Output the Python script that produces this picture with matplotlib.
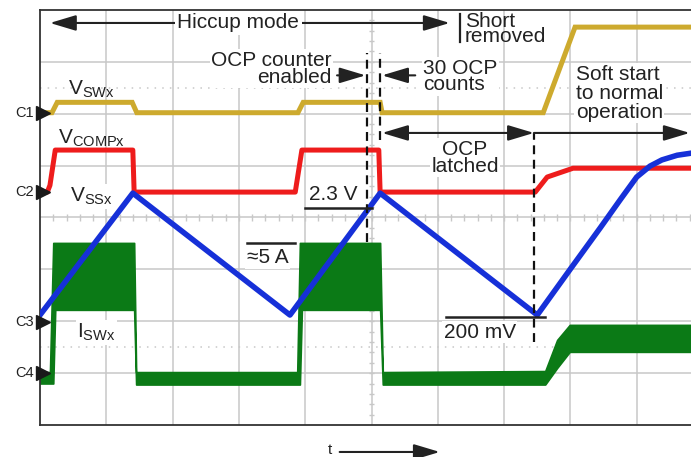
import numpy as np
import matplotlib
matplotlib.use('Agg')
import matplotlib.pyplot as plt

plt.rcParams['font.family'] = ['Liberation Sans', 'DejaVu Sans']
plt.rcParams['mathtext.fontset'] = 'custom'
plt.rcParams['mathtext.rm'] = 'Liberation Sans'

# time axis in scope divisions (10 across), amplitude in divisions (8 high)
swT = [0, 0.18, 0.26, 1.39, 1.46, 3.89, 3.97, 5.13, 5.16, 7.59, 8.07, 10]
swV = [6.02, 6.02, 6.22, 6.22, 6.02, 6.02, 6.22, 6.22, 6.02, 6.02, 7.67, 7.67]

compT = [0, 0.11, 0.15, 0.23, 1.40, 1.42, 3.85, 3.95, 5.11, 5.13, 7.47, 7.65, 8.04, 10]
compV = [4.49, 4.49, 4.62, 5.30, 5.30, 4.49, 4.49, 5.30, 5.30, 4.49, 4.49, 4.78, 4.95, 4.95]

ssT = [0, 1.40, 3.77, 5.13, 7.50, 7.99, 8.45, 8.75, 9.00, 9.20, 9.38, 9.61, 9.82, 10]
ssV = [2.12, 4.47, 2.12, 4.47, 2.12, 2.99, 3.80, 4.34, 4.78, 4.99, 5.11, 5.20, 5.24, 5.26]

# switch current is a noisy band: upper / lower envelope
iT = [0.00, 0.15, 0.20, 0.23, 1.42, 1.45, 3.88, 3.92, 3.95, 5.13, 5.17, 7.62, 7.80, 7.99, 10.0]
iHi = [1.02, 1.02, 3.51, 3.51, 3.51, 1.02, 1.02, 3.51, 3.51, 3.51, 1.02, 1.04, 1.64, 1.93, 1.93]
iLo = [0.80, 0.80, 0.80, 2.22, 2.22, 0.78, 0.78, 0.78, 2.22, 2.22, 0.78, 0.78, 1.10, 1.41, 1.41]

chNames = ['C1', 'C2', 'C3', 'C4']
chLevels = [6.02, 4.49, 1.98, 1.0]

yellow = '#CDAA2E'
red = '#EE1C1C'
blue = '#1630D8'
green = '#0B7A16'
ink = '#222222'
gridc = '#C8C8C8'

fig = plt.figure(figsize=(6.91, 4.57), dpi=100)
ax = fig.add_axes([40/691, 32/457, 663/691, 415/457])
ax.set_xlim(0, 10)
ax.set_ylim(0, 8)
ax.set_xticks([])
ax.set_yticks([])
for s in ['left', 'top', 'bottom']:
    ax.spines[s].set_color('#333333')
    ax.spines[s].set_linewidth(1.3)
ax.spines['right'].set_visible(False)

# graticule
for gx in range(1, 10):
    ax.axvline(gx, color=gridc, lw=1.1, zorder=0)
for gy in range(1, 8):
    ax.axhline(gy, color=gridc, lw=1.1, zorder=0)
for gy in [1.5, 6.5]:
    ax.axhline(gy, color=gridc, lw=1.1, ls=(0, (1, 4)), zorder=0)
tx = np.arange(0.2, 10, 0.2)
ax.vlines(tx, 4 - 0.06, 4 + 0.06, color=gridc, lw=1.0, zorder=0)
ty = np.arange(0.2, 8, 0.2)
ax.hlines(ty, 5 - 0.045, 5 + 0.045, color=gridc, lw=1.0, zorder=0)

# traces
ax.fill_between(iT, iLo, iHi, color=green, lw=1.2, edgecolor=green, zorder=2)
ax.plot(swT, swV, color=yellow, lw=3.6, zorder=3, solid_joinstyle='miter')
ax.plot(compT, compV, color=red, lw=3.6, zorder=3)
ax.plot(ssT, ssV, color=blue, lw=4.0, zorder=4)

# channel markers
for name, lev in zip(chNames, chLevels):
    ax.plot([0.05], [lev], marker='>', ms=10, color='#1a1a1a', clip_on=False, zorder=6)
    ax.text(-0.09, lev, name, ha='right', va='center', fontsize=10.5, color=ink)

fs = 15
wbox = dict(facecolor='white', edgecolor='none', pad=1.0)

# trace labels
ax.text(0.42, 6.36, r'$\mathregular{V_{SWx}}$', fontsize=fs, color=ink, va='baseline')
ax.text(0.27, 5.43, r'$\mathregular{V_{COMPx}}$', fontsize=fs, color=ink, va='baseline')
ax.text(0.45, 4.30, r'$\mathregular{V_{SSx}}$', fontsize=fs, color=ink, va='baseline',
        bbox=wbox, zorder=5)
ax.text(0.56, 1.68, r'$\mathregular{I_{SWx}}$', fontsize=fs, color=ink, va='baseline',
        bbox=wbox, zorder=1)

def arrow(x0, y0, x1, y1, style='-|>'):
    ax.annotate('', xy=(x1, y1), xytext=(x0, y0),
                arrowprops=dict(arrowstyle=style + ',head_length=1.0,head_width=0.3',
                                mutation_scale=16, lw=1.5, color=ink,
                                shrinkA=0, shrinkB=0),
                annotation_clip=False, zorder=7)

# hiccup mode span
arrow(0.15, 7.75, 6.18, 7.75, '<|-|>')
ax.text(2.99, 7.75, 'Hiccup mode', fontsize=fs, color=ink, ha='center', va='center',
        bbox=dict(facecolor='white', edgecolor='none', pad=2.0), zorder=8)

ax.plot([6.33, 6.33], [7.38, 7.92], color=ink, lw=1.6, zorder=7)
ax.text(6.41, 7.96, 'Short\nremoved', fontsize=fs, color=ink, ha='left', va='top',
        linespacing=0.72, zorder=8)

# dashed markers
ax.plot([4.93, 4.93], [3.53, 7.17], color='#111111', lw=1.6, ls=(0, (4, 2.5)), zorder=6)
ax.plot([5.13, 5.13], [5.49, 7.17], color='#111111', lw=1.6, ls=(0, (4, 2.5)), zorder=6)
ax.plot([7.45, 7.45], [1.60, 5.63], color='#111111', lw=1.6, ls=(0, (4, 2.5)), zorder=6)

ax.text(4.40, 6.60, 'OCP counter\nenabled', fontsize=fs, color=ink, ha='right',
        va='baseline', linespacing=0.86, bbox=wbox, zorder=8)
arrow(4.48, 6.74, 4.91, 6.74)
ax.text(5.78, 6.45, '30 OCP\ncounts', fontsize=fs, color=ink, ha='left',
        va='baseline', linespacing=0.86, bbox=wbox, zorder=8)
arrow(5.66, 6.74, 5.16, 6.74)

arrow(5.16, 5.63, 7.45, 5.63, '<|-|>')
ax.text(6.41, 4.88, 'OCP\nlatched', fontsize=fs, color=ink, ha='center',
        va='baseline', linespacing=0.86, bbox=wbox, zorder=8)
arrow(7.45, 5.63, 9.80, 5.63)
ax.text(8.08, 5.92, 'Soft start\nto normal\noperation', fontsize=fs, color=ink,
        ha='left', va='baseline', linespacing=1.0, bbox=wbox, zorder=8)

# level callouts
ax.plot([3.99, 5.01], [4.18, 4.18], color=ink, lw=1.8, zorder=7)
ax.text(4.05, 4.34, '2.3 V', fontsize=fs, color=ink, ha='left', va='baseline',
        bbox=wbox, zorder=6)
ax.plot([3.12, 3.85], [3.50, 3.50], color=ink, lw=1.8, zorder=7)
ax.text(3.12, 3.12, '\u22485 A', fontsize=fs, color=ink, ha='left', va='baseline',
        bbox=wbox, zorder=6)
ax.plot([6.12, 7.62], [2.08, 2.08], color=ink, lw=1.8, zorder=7)
ax.text(6.09, 1.68, '200 mV', fontsize=fs, color=ink, ha='left', va='baseline',
        bbox=wbox, zorder=6)

# time axis hint
ax.text(4.37, -0.48, 't', fontsize=11, color=ink, ha='center', va='center')
arrow(4.52, -0.52, 6.03, -0.52)

fig.savefig('out.png', dpi=100)
